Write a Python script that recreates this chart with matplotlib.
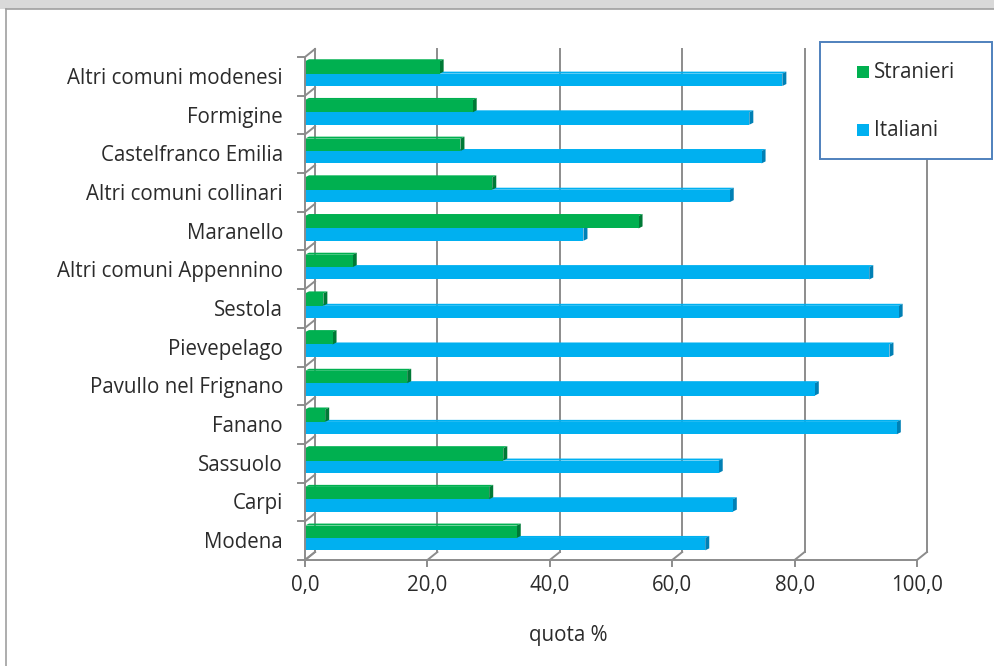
import matplotlib
matplotlib.use("Agg")
import matplotlib.pyplot as plt
from matplotlib.patches import Polygon, Rectangle
from matplotlib.lines import Line2D

# categories listed bottom to top
comuni = ["Modena", "Carpi", "Sassuolo", "Fanano", "Pavullo nel Frignano",
          "Pievepelago", "Sestola", "Altri comuni Appennino", "Maranello",
          "Altri comuni collinari", "Castelfranco Emilia", "Formigine",
          "Altri comuni modenesi"]
stranieri = [34.6, 30.1, 32.4, 3.3, 16.7, 4.5, 3.0, 7.8, 54.5, 30.6, 25.4, 27.4, 22.0]
italiani = [65.4, 69.9, 67.6, 96.7, 83.3, 95.5, 97.0, 92.2, 45.5, 69.4, 74.6, 72.6, 78.0]
xticks = [0, 20, 40, 60, 80, 100]
xlabels = ["0,0", "20,0", "40,0", "60,0", "80,0", "100,0"]

W, H = 994, 666
GREEN, GREEN_D = "#00B050", "#007a36"
BLUE, BLUE_D = "#00B0F0", "#0080b5"
GRID = "#8c8c8c"
TXT = "#2b2b2b"
FONT = "Open Sans"
FS = 14.8

fig = plt.figure(figsize=(W / 100, H / 100), dpi=100)

# front plane of the plot area in pixels
x0, x1, ytop, ybot = 305, 917, 57, 560
ax = fig.add_axes([x0 / W, (H - ybot) / H, (x1 - x0) / W, (ybot - ytop) / H])
n = len(comuni)
ax.set_xlim(0, 100)
ax.set_ylim(-0.5, n - 0.5)
ax.axis("off")

px_x = 100 / (x1 - x0)          # data units per pixel, horizontal
px_y = n / (ybot - ytop)        # data units per pixel, vertical
wx, wy = 10 * px_x, 8 * px_y     # wall depth offset
bx, by = 4 * px_x, 2 * px_y      # bar depth offset

def line(xs, ys, z=1, **kw):
    ax.add_line(Line2D(xs, ys, color=GRID, lw=1.4, zorder=z, clip_on=False, **kw))

# back wall gridlines and floor diagonals
yb, yt = -0.5, n - 0.5
for v in xticks:
    line([v + wx, v + wx], [yb + wy, yt + wy])
    line([v, v + wx], [yb, yb + wy], z=4)
    line([v, v], [yb, yb - 6 * px_y], z=4)
line([0, 100], [yb, yb], z=4)

# left wall
line([0, 0], [yb, yt], z=4)
for k in range(n + 1):
    b = k - 0.5
    line([0, wx], [b, b + wy], z=1)
    line([-7 * px_x, 0], [b, b], z=4)

def bar3d(val, y0, h, face, dark, z):
    ax.add_patch(Polygon([(0, y0 + h), (bx, y0 + h + by), (val + bx, y0 + h + by), (val, y0 + h)],
                         closed=True, fc=face, ec="none", zorder=z, clip_on=False))
    ax.add_patch(Polygon([(val, y0), (val + bx, y0 + by), (val + bx, y0 + h + by), (val, y0 + h)],
                         closed=True, fc=dark, ec="none", zorder=z, clip_on=False))
    ax.add_patch(Rectangle((0, y0), val, h, fc=face, ec="none", zorder=z + 0.5, clip_on=False))

a, h = 0.07, 0.32
for i in range(n):
    bar3d(italiani[i], i + a - h, h, BLUE, BLUE_D, 2)
    bar3d(stranieri[i], i + a, h, GREEN, GREEN_D, 3)

# category and value labels
for i, name in enumerate(comuni):
    ax.text(-22 * px_x, i - 2 * px_y, name, ha="right", va="center", fontsize=FS,
            family=FONT, color=TXT)
for v, lab in zip(xticks, xlabels):
    ax.text(v, yb - 26 * px_y, lab, ha="center", va="center", fontsize=FS,
            family=FONT, color=TXT)
fig.text(568 / W, 1 - 636 / H, "quota %", ha="center", va="center",
         fontsize=FS, family=FONT, color=TXT)

# legend box
fig.patches.append(Rectangle((820 / W, 1 - 159 / H), 172 / W, 117 / H, transform=fig.transFigure,
                             fc="white", ec="#4F81BD", lw=1.4, zorder=10))
for yc, col, lab in [(72, GREEN, "Stranieri"), (130, BLUE, "Italiani")]:
    fig.patches.append(Rectangle((857 / W, 1 - (yc + 6) / H), 12 / W, 12 / H,
                                 transform=fig.transFigure, fc=col, ec="none", zorder=11))
    fig.text(874 / W, 1 - yc / H, lab, ha="left", va="center", fontsize=FS,
             family=FONT, color=TXT, zorder=12)

# outer frame strip
fig.patches.append(Rectangle((0, 1 - 9 / H), 1, 9 / H, transform=fig.transFigure,
                             fc="#d9d9d9", ec="none"))
fig.lines.append(Line2D([6 / W, 1], [1 - 9 / H, 1 - 9 / H], transform=fig.transFigure,
                        color="#a0a0a0", lw=1.2))
fig.lines.append(Line2D([6 / W, 6 / W], [0, 1 - 9 / H], transform=fig.transFigure,
                        color="#a0a0a0", lw=1.2))

fig.savefig("out.png", dpi=100)
